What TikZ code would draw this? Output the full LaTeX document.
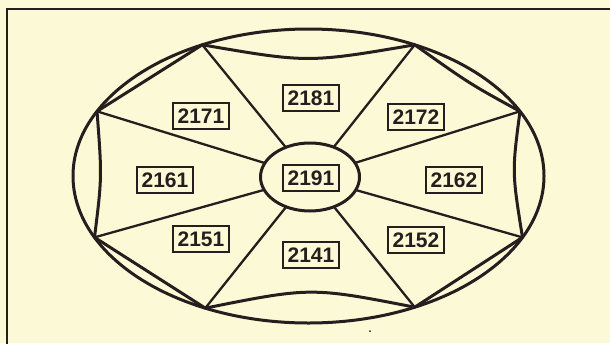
\documentclass[tikz,border=0pt]{standalone}
\usepackage{fontspec}
\setmainfont{Liberation Sans}
\usetikzlibrary{shapes.geometric}
\definecolor{bgcol}{RGB}{252,250,214}
\definecolor{inkcol}{RGB}{38,30,30}
\begin{document}
\begin{tikzpicture}[x=1pt,y=-1pt,
  ink/.style={draw=inkcol,line width=3pt,line cap=round,line join=round},
  spoke/.style={draw=inkcol,line width=2.3pt,line cap=round},
  lab/.style={draw=inkcol,line width=1.6pt,minimum width=56pt,minimum height=26pt,inner sep=0pt,font=\bfseries\fontsize{21}{21}\selectfont,text=inkcol},
  oval/.style={ellipse,draw=inkcol,line width=3pt,inner sep=0pt,outer sep=0pt}]
\useasboundingbox (0,0) rectangle (610,343);
\fill[bgcol] (0,0) rectangle (610,343);
\begin{scope}
\clip (0,0) rectangle (610,343);
\draw[inkcol,line width=1.4pt] (7,9) rectangle (640,370);
\end{scope}
% outer ellipse
\node[oval,minimum width=471pt,minimum height=294pt] (outer) at (308.5,176) {};
\coordinate (T1) at (outer.129.8);
\coordinate (T2) at (outer.51.4);
\coordinate (L1) at (outer.163.9);
\coordinate (R1) at (outer.17.3);
\coordinate (L2) at (outer.196.6);
\coordinate (R2) at (outer.344.7);
\coordinate (B1) at (outer.232.4);
\coordinate (B2) at (outer.309.8);
% inner curved octagon
\draw[ink] (T1) .. controls (308,63) .. (T2);
\draw[ink] (T2) .. controls (470,84) .. (R1);
\draw[ink] (R1) .. controls (512,172) .. (R2);
\draw[ink] (R2) -- (B2);
\draw[ink] (B2) .. controls (311,287) .. (B1);
\draw[ink] (B1) -- (L2);
\draw[ink] (L2) .. controls (102,177) .. (L1);
\draw[ink] (L1) -- (T1);
% inner ellipse
\node[oval,minimum width=99pt,minimum height=68pt] (inner) at (310,177) {};
\foreach \v in {T1,T2,L1,R1,L2,R2,B1,B2}{\draw[spoke] (inner) -- (\v);}
% labels
\node[lab] (l2181) at (311,98) {2181};
\node[lab] (l2171) at (201,116) {2171};
\node[lab] (l2172) at (416,117) {2172};
\node[lab] (l2161) at (165,180) {2161};
\node[lab] (l2191) at (311,178) {2191};
\node[lab] (l2162) at (454,180) {2162};
\node[lab] (l2151) at (201,239) {2151};
\node[lab] (l2152) at (416,240) {2152};
\node[lab] (l2141) at (311,255) {2141};
\fill[inkcol] (370,331) circle (1pt);
\end{tikzpicture}
\end{document}
